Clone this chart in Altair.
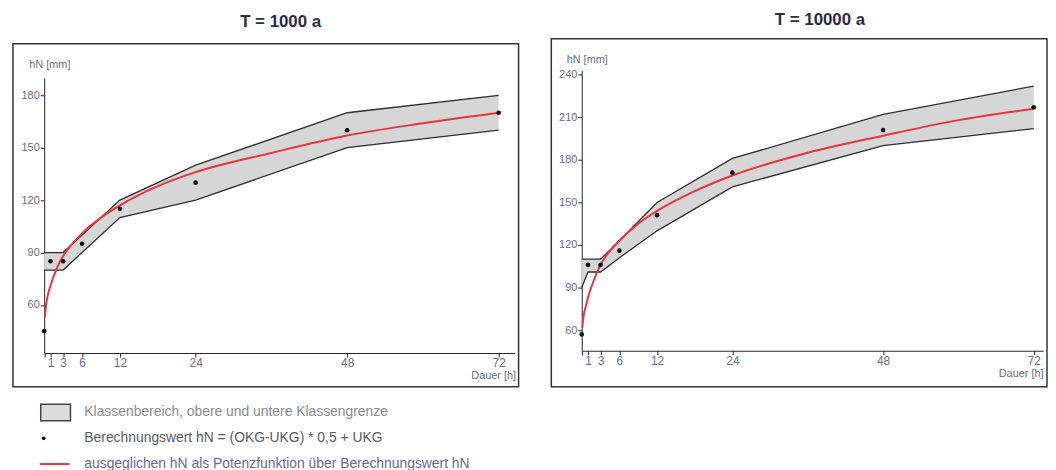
import altair as alt
import pandas as pd

# ---- data ----
dauer = [0, 1, 3, 6, 12, 24, 48, 72]
x_ticks = [0, 1, 3, 6, 12, 24, 48, 72]

# T = 1000 a
okg_1000 = [90, 90, 90, 100, 120, 140, 170, 180]
ukg_1000 = [80, 80, 80, 90, 110, 120, 150, 160]
hn_1000 = [45, 85, 85, 95, 115, 130, 160, 170]
y_ticks_1000 = [60, 90, 120, 150, 180]

# T = 10000 a
okg_10000 = [110, 110, 110, 123, 150, 181, 212, 232]
ukg_10000 = [90, 101, 101, 111, 130, 161, 190, 202]
hn_10000 = [57, 106, 106, 116, 141, 171, 201, 217]
y_ticks_10000 = [60, 90, 120, 150, 180, 210, 240]

# red fitted curve
fit_dauer = [0.1, 0.3, 0.6, 1, 2, 3, 4, 6, 9, 12, 18, 24, 36, 48, 60, 72]
fit_1000 = [53, 60, 66, 71, 81, 88, 93, 101, 110, 117, 128, 136, 147, 157, 164, 170]
fit_10000 = [62, 70, 76, 83, 96, 106, 113, 123, 135, 144, 158, 169, 185, 197, 208, 216]

legend_labels = [
    "Klassenbereich, obere und untere Klassengrenze",
    "Berechnungswert hN = (OKG-UKG) * 0,5 + UKG",
    "ausgeglichen hN als Potenzfunktion über Berechnungswert hN",
]
legend_colors = ["#8a8a92", "#5a5a66", "#6a64a0"]

FONT = "Liberation Sans"
LBL = "#6a6a96"
RED = "#e8343c"


def title_params(text, dx, offset):
    return alt.TitleParams(text, font=FONT, fontSize=17, fontWeight="bold",
                           color="#2b2b4b", anchor="middle", dx=dx, offset=offset)


def panel(okg, ukg, hn, fit, yticks, ydom, yrange, xmax, xrange,
          w, h, xoff, yoff, ytx, yty, xtx, xty):
    band = pd.DataFrame({"d": dauer, "o": okg, "u": ukg, "m": hn})
    fdf = pd.DataFrame({"d": fit_dauer, "o": fit})
    xs = alt.Scale(domain=[0, xmax], range=xrange, nice=False, zero=False)
    ys = alt.Scale(domain=ydom, range=yrange, nice=False, zero=False)
    xaxis = alt.Axis(values=x_ticks, offset=xoff, grid=False, title="Dauer [h]",
                     labelExpr="datum.value == 0 ? '' : datum.label",
                     labelOverlap=False, labelFlush=False, labelFont=FONT,
                     labelFontSize=12, labelColor=LBL, labelPadding=1,
                     tickSize=4, tickColor="#222", domainColor="#222",
                     titleFont=FONT, titleFontSize=11, titleFontWeight="normal",
                     titleColor="#6a6a80", titleX=xtx, titleY=xty,
                     titleAlign="right", titleBaseline="middle")
    yaxis = alt.Axis(values=yticks, offset=yoff, grid=False, title="hN [mm]",
                     labelOverlap=False, labelFlush=False, labelFont=FONT,
                     labelFontSize=11, labelColor=LBL, labelPadding=1,
                     tickSize=4, tickColor="#222", domainColor="#222",
                     titleFont=FONT, titleFontSize=11, titleFontWeight="normal",
                     titleColor="#6a6a96", titleAngle=0, titleX=ytx, titleY=yty,
                     titleAlign="left", titleBaseline="middle")
    X = alt.X("d:Q", scale=xs, axis=xaxis)
    area = alt.Chart(band).mark_area(color="#d6d6d6", opacity=1).encode(
        x=X, y=alt.Y("o:Q", scale=ys, axis=yaxis), y2="u:Q")
    up = alt.Chart(band).mark_line(color="#2e2e2e", strokeWidth=1.3).encode(
        x=X, y=alt.Y("o:Q", scale=ys, axis=yaxis))
    lo = alt.Chart(band).mark_line(color="#2e2e2e", strokeWidth=1.3).encode(
        x=X, y=alt.Y("u:Q", scale=ys, axis=yaxis))
    red = alt.Chart(fdf).mark_line(color=RED, strokeWidth=2,
                                   interpolate="monotone").encode(
        x=X, y=alt.Y("o:Q", scale=ys, axis=yaxis))
    pts = alt.Chart(band).mark_circle(color="#111111", size=22, opacity=1).encode(
        x=X, y=alt.Y("m:Q", scale=ys, axis=yaxis))
    return alt.layer(area, up, lo, red, pts).properties(
        width=w, height=h,
        view=alt.ViewBackground(stroke="#333333", strokeWidth=1.5),
    )


left_panel = panel(okg_1000, ukg_1000, hn_1000, fit_1000,
                   y_ticks_1000, [32.5, 190], [312, 34.4], 74.5, [31.5, 505.8],
                   510, 346, -34, -31.5, -15.5, 21, 507, 23)
right = panel(okg_10000, ukg_10000, hn_10000, fit_10000,
              y_ticks_10000, [45.5, 243], [314.7, 32], 73.5, [30.7, 496.1],
              500, 351, -36.3, -30.7, -15.7, 21, 496, 23).properties(
    title=title_params("T = 10000 a", 21, 9.5))

# thin invisible strip carrying the left title, so the left frame sits a bit lower
spacer = alt.Chart(pd.DataFrame({"a": [0]})).mark_point(opacity=0).encode(
    x=alt.value(0), y=alt.value(0)).properties(
    width=510, height=1, view=alt.ViewBackground(stroke=None),
    title=title_params("T = 1000 a", 15, 5.5))
left = alt.vconcat(spacer, left_panel, spacing=1)

leg = pd.DataFrame({"row": [0, 1, 2], "label": legend_labels, "c": legend_colors})
lys = alt.Scale(domain=[0, 2], range=[5, 57], nice=False, zero=False)
LY = alt.Y("row:Q", scale=lys, axis=None)
rect_path = "M-1,-0.55L1,-0.55L1,0.55L-1,0.55Z"
leg_text = alt.Chart(leg).mark_text(align="left", baseline="middle", font=FONT,
                                    fontSize=14).encode(
    x=alt.value(72), y=LY, text="label:N", color=alt.Color("c:N", scale=None))
leg_sw = alt.Chart(leg).transform_filter("datum.row == 0").mark_point(
    shape=rect_path, size=900, filled=True, fill="#dcdcdc", stroke="#444444",
    strokeWidth=1.5, opacity=1).encode(x=alt.value(43), y=LY)
leg_dot = alt.Chart(leg).transform_filter("datum.row == 1").mark_circle(
    size=14, color="#111111", opacity=1).encode(x=alt.value(31), y=LY)
leg_line = alt.Chart(leg).transform_filter("datum.row == 2").mark_rule(
    color=RED, strokeWidth=2).encode(x=alt.value(27), x2=alt.value(57), y=LY)
legend = alt.layer(leg_sw, leg_dot, leg_line, leg_text).properties(
    width=500, height=50, view=alt.ViewBackground(stroke=None))

chart = alt.vconcat(
    alt.hconcat(left, right, spacing=31),
    legend,
    spacing=13,
).properties(
    padding={"left": 2, "top": 0, "right": 0, "bottom": 0},
    background="white",
)

chart.save("out.html", embed_options={"renderer": "svg", "actions": False})
